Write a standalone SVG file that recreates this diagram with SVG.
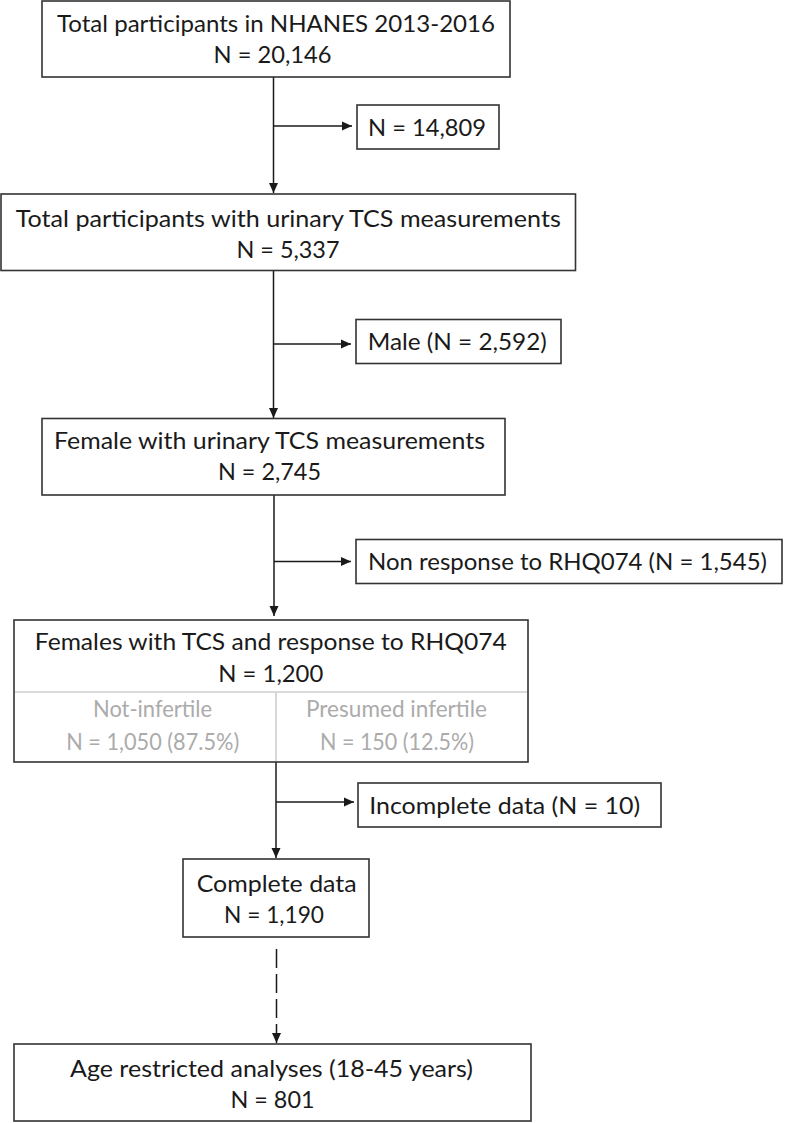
<svg xmlns="http://www.w3.org/2000/svg" width="791" height="1123" viewBox="0 0 791 1123">
<style>
.box{fill:#fff;stroke:#333;stroke-width:1.6}
.t{font-family:Lato,"Noto Sans",sans-serif;font-size:24px;fill:#1a1a1a;text-anchor:middle}
.g{fill:#ababab}
.div{stroke:#cfcfcf;stroke-width:1.6;fill:none}
.c{stroke:#1a1a1a;stroke-width:1.5;fill:none}
</style>
<defs>
<marker id="ah" markerUnits="userSpaceOnUse" markerWidth="10" markerHeight="10" refX="10" refY="5" orient="auto" viewBox="0 0 10 10">
<path d="M0,0.5 L10,5 L0,9.5 z" fill="#1a1a1a"/>
</marker>
</defs>
<rect width="791" height="1123" fill="#fff"/>
<g id="connectors">
<line class="c" x1="273.5" y1="77" x2="273.5" y2="193" marker-end="url(#ah)"/>
<line class="c" x1="273.5" y1="126" x2="352" y2="126" marker-end="url(#ah)"/>
<line class="c" x1="273.5" y1="270" x2="273.5" y2="418" marker-end="url(#ah)"/>
<line class="c" x1="273.5" y1="344" x2="351" y2="344" marker-end="url(#ah)"/>
<line class="c" x1="274" y1="495" x2="274" y2="616" marker-end="url(#ah)"/>
<line class="c" x1="274" y1="561.5" x2="351" y2="561.5" marker-end="url(#ah)"/>
<line class="c" x1="276" y1="762" x2="276" y2="858" marker-end="url(#ah)"/>
<line class="c" x1="276" y1="802" x2="354" y2="802" marker-end="url(#ah)"/>
<line class="c" x1="276.5" y1="949" x2="276.5" y2="1043" stroke-dasharray="19 6" marker-end="url(#ah)"/>
</g>
<g id="n1">
<rect class="box" x="42" y="1" width="468" height="76"/>
<text class="t" x="276" y="32" textLength="438" lengthAdjust="spacingAndGlyphs">Total participants in NHANES 2013-2016</text>
<text class="t" x="272.5" y="63" textLength="118" lengthAdjust="spacingAndGlyphs">N = 20,146</text>
</g>
<g id="e1">
<rect class="box" x="357" y="105" width="142" height="44"/>
<text class="t" x="427" y="136" textLength="118" lengthAdjust="spacingAndGlyphs">N = 14,809</text>
</g>
<g id="n2">
<rect class="box" x="1" y="194" width="574.5" height="76.5"/>
<text class="t" x="288.3" y="227" textLength="545" lengthAdjust="spacingAndGlyphs">Total participants with urinary TCS measurements</text>
<text class="t" x="288" y="258" textLength="103" lengthAdjust="spacingAndGlyphs">N = 5,337</text>
</g>
<g id="e2">
<rect class="box" x="356" y="319.5" width="205" height="44"/>
<text class="t" x="457.3" y="350" textLength="179" lengthAdjust="spacingAndGlyphs">Male (N = 2,592)</text>
</g>
<g id="n3">
<rect class="box" x="42" y="418.5" width="463" height="76.5"/>
<text class="t" x="269.5" y="448.5" textLength="431" lengthAdjust="spacingAndGlyphs">Female with urinary TCS measurements</text>
<text class="t" x="269.5" y="480" textLength="103" lengthAdjust="spacingAndGlyphs">N = 2,745</text>
</g>
<g id="e3">
<rect class="box" x="356" y="539.5" width="426" height="44"/>
<text class="t" x="567.5" y="570" textLength="399" lengthAdjust="spacingAndGlyphs">Non response to RHQ074 (N = 1,545)</text>
</g>
<g id="n4">
<rect class="box" x="14" y="620" width="514" height="142"/>
<line class="div" x1="15" y1="692" x2="527" y2="692"/>
<line class="div" x1="276" y1="692" x2="276" y2="761"/>
<text class="t" x="270.8" y="649.5" textLength="472" lengthAdjust="spacingAndGlyphs">Females with TCS and response to RHQ074</text>
<text class="t" x="270.8" y="682" textLength="105" lengthAdjust="spacingAndGlyphs">N = 1,200</text>
<text class="t g" x="152.5" y="717" textLength="119" lengthAdjust="spacingAndGlyphs">Not-infertile</text>
<text class="t g" x="152.7" y="749.5" textLength="173" lengthAdjust="spacingAndGlyphs">N = 1,050 (87.5%)</text>
<text class="t g" x="396.5" y="717" textLength="181" lengthAdjust="spacingAndGlyphs">Presumed infertile</text>
<text class="t g" x="397" y="749.5" textLength="154" lengthAdjust="spacingAndGlyphs">N = 150 (12.5%)</text>
</g>
<g id="e4">
<rect class="box" x="358" y="783" width="303" height="44"/>
<text class="t" x="504.7" y="814" textLength="271" lengthAdjust="spacingAndGlyphs">Incomplete data (N = 10)</text>
</g>
<g id="n5">
<rect class="box" x="183" y="859" width="186" height="78"/>
<text class="t" x="276.7" y="891.7" textLength="160" lengthAdjust="spacingAndGlyphs">Complete data</text>
<text class="t" x="274" y="922.7" textLength="100" lengthAdjust="spacingAndGlyphs">N = 1,190</text>
</g>
<g id="n6">
<rect class="box" x="14" y="1044" width="517" height="77"/>
<text class="t" x="271.5" y="1076.5" textLength="403" lengthAdjust="spacingAndGlyphs">Age restricted analyses (18-45 years)</text>
<text class="t" x="272.5" y="1108" textLength="84" lengthAdjust="spacingAndGlyphs">N = 801</text>
</g>
</svg>
